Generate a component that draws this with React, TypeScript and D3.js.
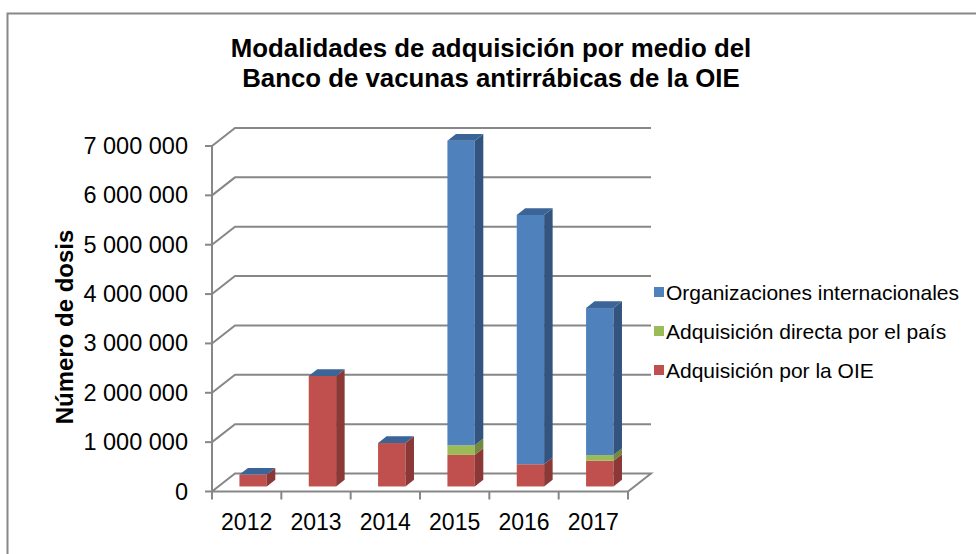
import React from "react";
import * as d3 from "d3";

// values
const years = ["2012", "2013", "2014", "2015", "2016", "2017"];
const adquisicionOIE = [240000, 2240000, 880000, 640000, 450000, 520000];
const adquisicionPais = [0, 0, 0, 195000, 0, 115000];
const organizaciones = [0, 0, 0, 6170000, 5050000, 2980000];
const yTicks = [0, 1000000, 2000000, 3000000, 4000000, 5000000, 6000000, 7000000];

const seriesNames = [
  "Adquisición por la OIE",
  "Adquisición directa por el país",
  "Organizaciones internacionales",
];
const seriesFront = ["#C0504D", "#9BBB59", "#4F81BD"];
const seriesSide = ["#8C3836", "#718A3F", "#32547F"];
const capColor = "#3B6597";

const width = 976;
const height = 554;
const font = "'Liberation Sans', Arial, sans-serif";

// 3d offsets (back wall and bar position inside the depth)
const wallDx = 23;
const wallDy = -18;
const barFrontT = 0.28;
const barDepthT = 0.37;

const fmt = d3.formatLocale({
  decimal: ",",
  thousands: " ",
  grouping: [3],
  currency: ["", ""],
}).format(",d");

const App = () => {
  const x = d3.scaleBand().domain(years).range([212, 628]).padding(0);
  const y = d3.scaleLinear().domain([0, 7000000]).range([491.5, 146]);

  const rows = years.map((yr, i) => ({
    year: yr,
    s0: adquisicionOIE[i],
    s1: adquisicionPais[i],
    s2: organizaciones[i],
  }));
  const stacked = d3.stack<any>().keys(["s0", "s1", "s2"])(rows);

  const bw = x.bandwidth() * 0.395;
  const fdx = wallDx * barFrontT;
  const fdy = wallDy * barFrontT;
  const ddx = wallDx * barDepthT;
  const ddy = wallDy * barDepthT;

  const [x0, x1] = x.range();
  const floorY = y(0);

  const poly = (pts: number[][]) => pts.map((p) => p.join(",")).join(" ");

  return (
    <svg
      width={width}
      height={height}
      style={{ position: "absolute", left: 0, top: 0, background: "#fff" }}
    >
      <rect x={7.5} y={13.5} width={990} height={560} fill="#fff" stroke="#888" strokeWidth={2} />

      <g fontFamily={font} fontWeight="bold" fontSize={25.8} textAnchor="middle" fill="#000">
        <text x={491} y={57}>Modalidades de adquisición por medio del</text>
        <text x={491} y={87}>Banco de vacunas antirrábicas de la OIE</text>
      </g>

      {/* gridlines with the back wall */}
      <g stroke="#878787" strokeWidth={2} fill="none">
        {yTicks.map((t) => (
          <polyline
            key={t}
            points={poly(
              t === 0
                ? [[x0, y(t)], [x0 + wallDx, y(t) + wallDy], [x1 + wallDx, y(t) + wallDy], [x1, y(t)], [x0, y(t)]]
                : [[x0, y(t)], [x0 + wallDx, y(t) + wallDy], [x1 + wallDx, y(t) + wallDy]]
            )}
          />
        ))}
        <line x1={x0} x2={x0} y1={y(7000000)} y2={floorY} />
        {yTicks.map((t) => (
          <line key={"t" + t} x1={x0 - 7} x2={x0} y1={y(t)} y2={y(t)} />
        ))}
        {[...years.map((yr) => x(yr)!), x1].map((v, i) => (
          <line key={"x" + i} x1={v} x2={v} y1={floorY} y2={floorY + 8} />
        ))}
      </g>

      {/* bars */}
      {years.map((yr, i) => {
        const bx = x(yr)! + (x.bandwidth() - bw) / 2 + fdx;
        const total = stacked[2][i][1];
        const yTop = y(total) + fdy;
        return (
          <g key={yr}>
            {stacked.map((s, k) => {
              const [a, b] = s[i];
              if (b - a <= 0) return null;
              const ya = y(a) + fdy;
              const yb = y(b) + fdy;
              return (
                <g key={k}>
                  <rect x={bx} y={yb} width={bw} height={ya - yb} fill={seriesFront[k]} />
                  <polygon
                    points={poly([[bx + bw, yb], [bx + bw + ddx, yb + ddy], [bx + bw + ddx, ya + ddy], [bx + bw, ya]])}
                    fill={seriesSide[k]}
                  />
                </g>
              );
            })}
            <polygon
              points={poly([[bx, yTop], [bx + bw, yTop], [bx + bw + ddx, yTop + ddy], [bx + ddx, yTop + ddy]])}
              fill={capColor}
            />
          </g>
        );
      })}

      {/* axis labels */}
      <g fontFamily={font} fontSize={23.5} fill="#000">
        {yTicks.map((t) => (
          <text key={t} x={188} y={y(t) + 8} textAnchor="end">
            {fmt(t)}
          </text>
        ))}
        {years.map((yr) => (
          <text key={yr} x={x(yr)! + x.bandwidth() / 2} y={530} textAnchor="middle" fontSize={23}>
            {yr}
          </text>
        ))}
      </g>
      <text
        transform="translate(73,327) rotate(-90)"
        fontFamily={font}
        fontWeight="bold"
        fontSize={24}
        textAnchor="middle"
      >
        Número de dosis
      </text>

      {/* legend */}
      <g fontFamily={font} fontSize={21}>
        {[2, 1, 0].map((k, j) => (
          <g key={k} transform={`translate(654,${292 + j * 39})`}>
            <rect x={0} y={-5} width={10} height={10} fill={seriesFront[k]} />
            <text x={12} y={7.5}>{seriesNames[k]}</text>
          </g>
        ))}
      </g>
    </svg>
  );
};

export default App;
